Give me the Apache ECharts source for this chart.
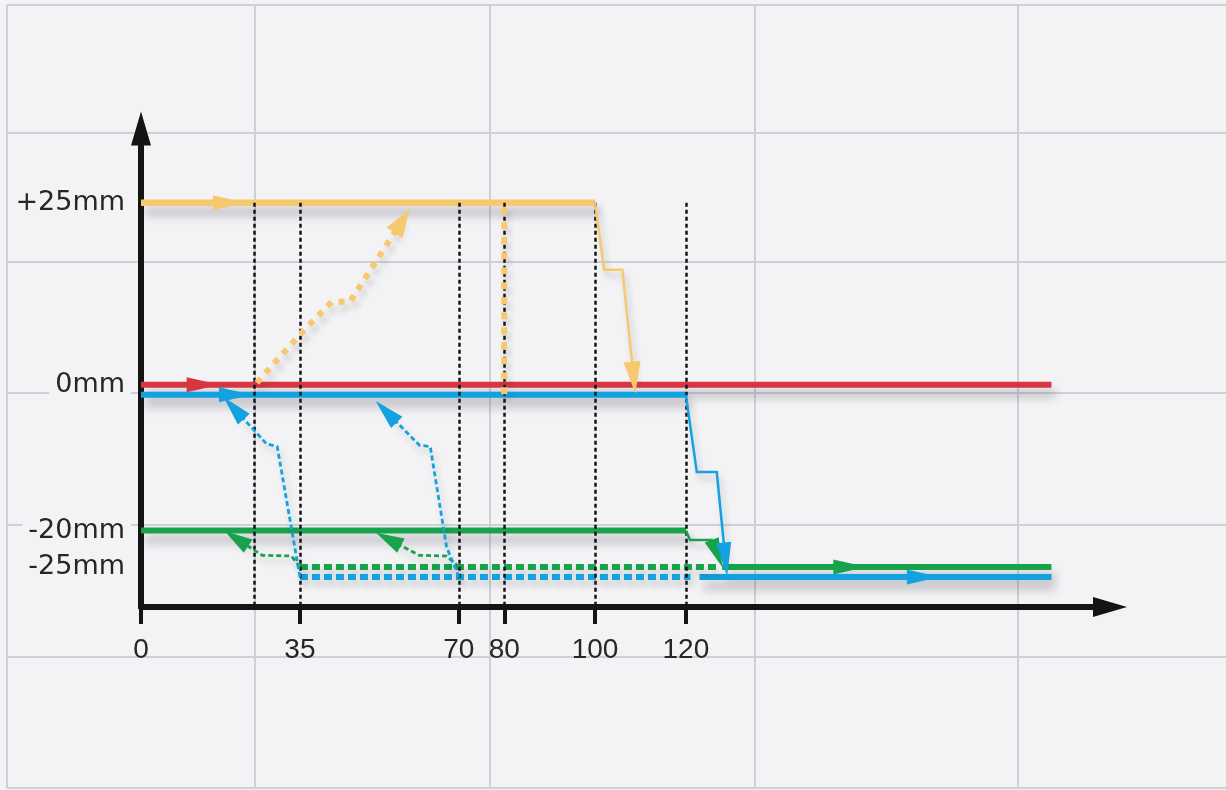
<!DOCTYPE html>
<html>
<head>
<meta charset="utf-8">
<script src="https://cdn.jsdelivr.net/npm/echarts@6/dist/echarts.min.js"></script>
<style>
html,body{margin:0;padding:0;background:#f3f3f5;}
#c{width:1226px;height:790px;}
</style>
</head>
<body>
<div id="c"></div>
<script>
// ---------- data (time units on x, mm on y) ----------
const xTicks = [0, 35, 70, 80, 100, 120];
const yTicks = [25, 0, -20, -25];
const yTickLabels = ['+25mm', '0mm', '-20mm', '-25mm'];
const guideX = [25, 35, 70, 80, 100, 120];

// yellow: command to +25mm
const yellowHold = [[0, 25], [100, 25]];
const yellowDrop = [[100, 25], [102, 15.8], [106, 15.8], [108.5, 1]];
const yellowRamp = [[25.5, 0.3], [35.3, 7.1], [42, 11.4], [46, 11.4], [57.5, 22.5]];
const yellowAt80 = [[80, -1.3], [80, 24.5]];
const yellowMark = 19.4;

// red: 0mm reference
const redHold = [[0, 0], [200.5, 0]];
const redMark = 13.7;

// green: -20mm -> -25mm
const greenHold = [[0, -20], [120, -20]];
const greenDrop = [[120, -20], [120.9, -21.3], [125.7, -21.3], [126.9, -23.2]];
const greenDotted = [[35, -25], [126.8, -25]];
const greenFinal = [[128, -25], [200.5, -25]];
const greenBack1 = [[35, -25], [33.1, -23.5], [26.7, -23.4], [21, -21.1]];
const greenBack2 = [[70, -25], [67.3, -23.5], [61.3, -23.4], [54.5, -21.2]];
const greenMark = 156.1;

// blue: 0mm -> -25mm
const blueHold = [[0, 0], [120, 0]];
const blueDrop = [[120, 0], [122.4, -10.6], [126.8, -10.6], [128.7, -22.6]];
const blueDotted = [[35, -25], [121, -25]];
const blueFinal = [[123, -25], [200.5, -25]];
const blueBack1 = [[35, -25], [30, -7.1], [27.6, -6.7], [20.4, -1.8]];
const blueBack2 = [[70, -25], [67.3, -20.9], [63.7, -7.1], [61.3, -6.9], [54, -2.3]];
const blueMark = 20.8;
const blueFinalMark = 172.3;

// ---------- chart ----------
const X_MIN = 0, X_MAX = 213.4, Y_MIN = -30.5, Y_MAX = 35.2;
const C = {
  yellow: '#f6c96f',
  red: '#d7353f',
  blue: '#12a2df',
  green: '#17a24b',
  black: '#141414',
  text: '#262626',
  bg: '#f3f3f5',
  grid: '#cfd0d6'
};
const SH = {shadowColor: 'rgba(45,45,70,0.33)', shadowBlur: 10, shadowOffsetX: 4, shadowOffsetY: 9};
const SH2 = {shadowColor: 'rgba(45,45,70,0.22)', shadowBlur: 6, shadowOffsetX: 3, shadowOffsetY: 6};

const A = 1, B = 2; // grid A (main axes), grid B (blue, drawn 10px lower)

function lineSer(data, g, color, width, dash, z, shadow) {
  return {
    type: 'line', xAxisIndex: g, yAxisIndex: g, data: data,
    symbol: 'none', showSymbol: false, clip: false, silent: true, animation: false,
    lineStyle: Object.assign({color: color, width: width, type: dash || 'solid', cap: 'butt', join: 'miter'}, shadow || {}),
    emphasis: {disabled: true},
    z: z
  };
}
function arrowSer(segs, g, color, size, z) {
  return {
    type: 'lines', coordinateSystem: 'cartesian2d', xAxisIndex: g, yAxisIndex: g,
    data: segs.map(s => ({coords: s})),
    symbol: ['none', 'triangle'], symbolSize: [0, size],
    lineStyle: {color: color, width: 0, opacity: 1},
    silent: true, animation: false, z: z
  };
}
const lastSeg = arr => arr.slice(-2);
const markSeg = (x, y) => [[x - 5, y], [x, y]];

const hiddenAxis = (g, min, max) => ({
  gridIndex: g, type: 'value', min: min, max: max, show: false
});

const option = {
  backgroundColor: C.bg,
  animation: false,
  grid: [
    {left: 7, top: 5, right: 0, bottom: 2, outerBoundsMode: 'none'},
    {left: 141, right: 116, top: 128.5, bottom: 183, outerBoundsMode: 'none'},
    {left: 141, right: 116, top: 138.5, bottom: 173, outerBoundsMode: 'none'}
  ],
  xAxis: [
    {gridIndex: 0, type: 'value', min: 0, max: 1219,
      axisLine: {show: false}, axisLabel: {show: false},
      axisTick: {show: false, customValues: [0, 248, 483, 748, 1011]},
      splitLine: {show: true, lineStyle: {color: C.grid, width: 2}}},
    {gridIndex: A, type: 'value', min: X_MIN, max: X_MAX, position: 'bottom',
      axisLine: {show: true, onZero: false, symbol: ['none', 'triangle'], symbolSize: [20, 34],
        lineStyle: {color: C.black, width: 6}},
      axisTick: {show: true, inside: false, length: 17, customValues: xTicks,
        lineStyle: {color: C.black, width: 4}},
      axisLabel: {show: true, customValues: xTicks, margin: 29, fontSize: 28,
        fontFamily: 'Liberation Sans', color: C.text},
      splitLine: {show: false}},
    hiddenAxis(B, X_MIN, X_MAX)
  ],
  yAxis: [
    {gridIndex: 0, type: 'value', min: 0, max: 783, inverse: true,
      axisLine: {show: false}, axisLabel: {show: false},
      axisTick: {show: false, customValues: [0, 128, 257, 388, 520, 652, 783]},
      splitLine: {show: true, lineStyle: {color: C.grid, width: 2}}},
    {gridIndex: A, type: 'value', min: Y_MIN, max: Y_MAX, position: 'left',
      axisLine: {show: true, onZero: false, symbol: ['none', 'triangle'], symbolSize: [20, 34],
        lineStyle: {color: C.black, width: 6}},
      axisTick: {show: false},
      axisLabel: {show: true, customValues: yTicks, margin: 10, fontSize: 27,
        fontFamily: 'DejaVu Sans', color: C.text, backgroundColor: C.bg, padding: [2, 6],
        formatter: v => { const i = yTicks.indexOf(v); return i >= 0 ? yTickLabels[i] : ''; }},
      splitLine: {show: false}},
    hiddenAxis(B, Y_MIN, Y_MAX)
  ],
  series: [
    // thick solid lines
    lineSer(redHold, A, C.red, 6, 'solid', 2, SH),
    lineSer(blueHold, B, C.blue, 6, 'solid', 2, SH),
    lineSer(yellowHold, A, C.yellow, 6.5, 'solid', 2, SH),
    lineSer(greenHold, A, C.green, 6, 'solid', 2, SH),
    lineSer(greenFinal, A, C.green, 6, 'solid', 2, SH),
    lineSer(blueFinal, B, C.blue, 6, 'solid', 2, SH),
    // thick dotted lines
    lineSer(greenDotted, A, C.green, 6, [8, 4], 2, SH2),
    lineSer(blueDotted, B, C.blue, 6, [8, 4], 2, SH2),
    lineSer(yellowRamp, A, C.yellow, 6, [6, 7], 4, SH2),
    // guides
    {
      type: 'lines', coordinateSystem: 'cartesian2d', xAxisIndex: A, yAxisIndex: A,
      data: guideX.map(x => ({coords: [[x, yTicks[0]], [x, Y_MIN]]})),
      lineStyle: {color: C.black, width: 2.5, type: [4, 3], opacity: 1},
      silent: true, animation: false, z: 3
    },
    lineSer(yellowAt80, A, C.yellow, 6, [7, 8], 4, SH2),
    // thin transitions
    lineSer(yellowDrop, A, C.yellow, 2.5, 'solid', 4, SH2),
    lineSer(greenDrop, A, C.green, 2.5, 'solid', 4, SH2),
    lineSer(blueDrop, B, C.blue, 2.5, 'solid', 4, SH2),
    lineSer(greenBack1, A, C.green, 2.8, [5, 3], 4, SH2),
    lineSer(greenBack2, A, C.green, 2.8, [5, 3], 4, SH2),
    lineSer(blueBack1, B, C.blue, 2.8, [5, 3], 4, SH2),
    lineSer(blueBack2, B, C.blue, 2.8, [5, 3], 4, SH2),
    // arrow heads
    arrowSer([lastSeg(yellowDrop)], A, C.yellow, [17, 32], 5),
    arrowSer([lastSeg(yellowRamp)], A, C.yellow, [19, 28], 5),
    arrowSer([markSeg(yellowMark, yTicks[0])], A, C.yellow, [15, 32], 5),
    arrowSer([markSeg(redMark, 0)], A, C.red, [15, 33], 5),
    arrowSer([lastSeg(greenDrop)], A, C.green, [15, 30], 5),
    arrowSer([lastSeg(greenBack1), lastSeg(greenBack2)], A, C.green, [16, 28], 5),
    arrowSer([markSeg(greenMark, -25)], A, C.green, [15, 33], 5),
    arrowSer([lastSeg(blueDrop)], B, C.blue, [15, 34], 5),
    arrowSer([lastSeg(blueBack1), lastSeg(blueBack2)], B, C.blue, [16, 30], 5),
    arrowSer([markSeg(blueMark, 0), markSeg(blueFinalMark, -25)], B, C.blue, [15, 33], 5)
  ]
};

const chart = echarts.init(document.getElementById('c'), null, {renderer: 'canvas'});
chart.setOption(option);
</script>
</body>
</html>
